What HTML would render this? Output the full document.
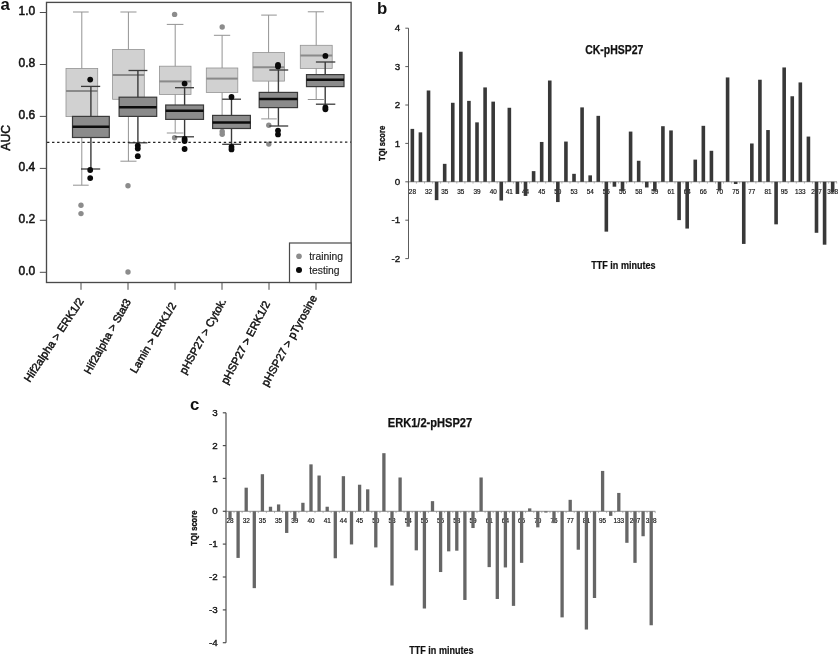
<!DOCTYPE html>
<html><head><meta charset="utf-8"><title>Figure</title>
<style>
html,body{margin:0;padding:0;background:#fff;}
body{width:839px;height:655px;overflow:hidden;font-family:"Liberation Sans",sans-serif;}
svg{display:block;font-family:"Liberation Sans",sans-serif;filter:blur(0.28px);}
</style></head><body>
<svg width="839" height="655" viewBox="0 0 839 655">
<rect x="0" y="0" width="839" height="655" fill="#ffffff"/>
<g id="pa">
<line x1="81.8" y1="12" x2="81.8" y2="185.2" stroke="#939393" stroke-width="1"/>
<line x1="73" y1="12" x2="88.7" y2="12" stroke="#939393" stroke-width="1"/>
<line x1="73" y1="185.2" x2="88.7" y2="185.2" stroke="#939393" stroke-width="1"/>
<rect x="66" y="68.4" width="31.7" height="48.2" fill="#d1d1d1" stroke="#939393" stroke-width="0.8"/>
<line x1="66" y1="91.0" x2="97.7" y2="91.0" stroke="#8a8a8a" stroke-width="2.0"/>
<circle cx="81" cy="205.3" r="2.7" fill="#8c8c8c"/>
<circle cx="81" cy="213.6" r="2.7" fill="#8c8c8c"/>
<line x1="128.4" y1="12" x2="128.4" y2="161.2" stroke="#939393" stroke-width="1"/>
<line x1="120.4" y1="12" x2="136.5" y2="12" stroke="#939393" stroke-width="1"/>
<line x1="120.4" y1="161.2" x2="136.5" y2="161.2" stroke="#939393" stroke-width="1"/>
<rect x="112.6" y="49.4" width="31.7" height="49.9" fill="#d1d1d1" stroke="#939393" stroke-width="0.8"/>
<line x1="112.6" y1="74.9" x2="144.3" y2="74.9" stroke="#8a8a8a" stroke-width="2.0"/>
<circle cx="128" cy="185.7" r="2.7" fill="#8c8c8c"/>
<circle cx="128" cy="272" r="2.7" fill="#8c8c8c"/>
<line x1="175.2" y1="24.4" x2="175.2" y2="133" stroke="#939393" stroke-width="1"/>
<line x1="166.8" y1="24.4" x2="183.4" y2="24.4" stroke="#939393" stroke-width="1"/>
<line x1="166.8" y1="133" x2="183.4" y2="133" stroke="#939393" stroke-width="1"/>
<rect x="159.4" y="66.2" width="31.6" height="28.3" fill="#d1d1d1" stroke="#939393" stroke-width="0.8"/>
<line x1="159.4" y1="81.4" x2="191" y2="81.4" stroke="#8a8a8a" stroke-width="2.0"/>
<circle cx="174.6" cy="14.4" r="2.7" fill="#8c8c8c"/>
<circle cx="174.6" cy="137.8" r="2.7" fill="#8c8c8c"/>
<line x1="222.1" y1="35.3" x2="222.1" y2="128.5" stroke="#939393" stroke-width="1"/>
<line x1="213.9" y1="35.3" x2="230.2" y2="35.3" stroke="#939393" stroke-width="1"/>
<line x1="213.9" y1="128.5" x2="230.2" y2="128.5" stroke="#939393" stroke-width="1"/>
<rect x="206.3" y="68" width="31.5" height="24.4" fill="#d1d1d1" stroke="#939393" stroke-width="0.8"/>
<line x1="206.3" y1="78.6" x2="237.8" y2="78.6" stroke="#8a8a8a" stroke-width="2.0"/>
<circle cx="222.2" cy="27" r="2.7" fill="#8c8c8c"/>
<circle cx="222.2" cy="131.5" r="2.7" fill="#8c8c8c"/>
<circle cx="222.2" cy="134.3" r="2.7" fill="#8c8c8c"/>
<line x1="268.6" y1="15.1" x2="268.6" y2="118.9" stroke="#939393" stroke-width="1"/>
<line x1="261.2" y1="15.1" x2="276.8" y2="15.1" stroke="#939393" stroke-width="1"/>
<line x1="261.2" y1="118.9" x2="276.8" y2="118.9" stroke="#939393" stroke-width="1"/>
<rect x="252.9" y="52.4" width="31.5" height="28.7" fill="#d1d1d1" stroke="#939393" stroke-width="0.8"/>
<line x1="252.9" y1="67.3" x2="284.4" y2="67.3" stroke="#8a8a8a" stroke-width="2.0"/>
<circle cx="268.8" cy="125.2" r="2.7" fill="#8c8c8c"/>
<circle cx="268.8" cy="144.1" r="2.7" fill="#8c8c8c"/>
<line x1="316.2" y1="11.8" x2="316.2" y2="99.5" stroke="#939393" stroke-width="1"/>
<line x1="307.8" y1="11.8" x2="323.9" y2="11.8" stroke="#939393" stroke-width="1"/>
<line x1="307.8" y1="99.5" x2="323.9" y2="99.5" stroke="#939393" stroke-width="1"/>
<rect x="300.3" y="45.3" width="31.9" height="23.2" fill="#d1d1d1" stroke="#939393" stroke-width="0.8"/>
<line x1="300.3" y1="55.4" x2="332.2" y2="55.4" stroke="#8a8a8a" stroke-width="2.0"/>
<line x1="47" y1="142.4" x2="351" y2="142.2" stroke="#222" stroke-width="1.3" stroke-dasharray="2.4,2.65"/>
<line x1="90.9" y1="86.4" x2="90.9" y2="169.0" stroke="#3a3a3a" stroke-width="1.4"/>
<line x1="81" y1="86.4" x2="100.2" y2="86.4" stroke="#3a3a3a" stroke-width="1.3"/>
<line x1="81" y1="169.0" x2="100.2" y2="169.0" stroke="#3a3a3a" stroke-width="1.3"/>
<rect x="72.5" y="116.4" width="36.8" height="21.1" fill="#8b8b8b" stroke="#3a3a3a" stroke-width="1.2"/>
<line x1="72.5" y1="126.7" x2="109.3" y2="126.7" stroke="#0c0c0c" stroke-width="2.5"/>
<circle cx="90.2" cy="79.6" r="2.9" fill="#0a0a0a"/>
<circle cx="90.2" cy="170" r="2.9" fill="#0a0a0a"/>
<circle cx="90.2" cy="178.1" r="2.9" fill="#0a0a0a"/>
<line x1="137.9" y1="70.5" x2="137.9" y2="142.8" stroke="#3a3a3a" stroke-width="1.4"/>
<line x1="128.5" y1="70.5" x2="147.4" y2="70.5" stroke="#3a3a3a" stroke-width="1.3"/>
<line x1="128.5" y1="142.8" x2="147.4" y2="142.8" stroke="#3a3a3a" stroke-width="1.3"/>
<rect x="119.1" y="97.2" width="37.6" height="19.2" fill="#8b8b8b" stroke="#3a3a3a" stroke-width="1.2"/>
<line x1="119.1" y1="107.2" x2="156.7" y2="107.2" stroke="#0c0c0c" stroke-width="2.5"/>
<circle cx="137.8" cy="145.6" r="2.9" fill="#0a0a0a"/>
<circle cx="137.8" cy="148.6" r="2.9" fill="#0a0a0a"/>
<circle cx="137.8" cy="156.2" r="2.9" fill="#0a0a0a"/>
<line x1="184.6" y1="87.7" x2="184.6" y2="136.8" stroke="#3a3a3a" stroke-width="1.4"/>
<line x1="175" y1="87.7" x2="194" y2="87.7" stroke="#3a3a3a" stroke-width="1.3"/>
<line x1="175" y1="136.8" x2="194" y2="136.8" stroke="#3a3a3a" stroke-width="1.3"/>
<rect x="165.7" y="105" width="37.8" height="14.4" fill="#8b8b8b" stroke="#3a3a3a" stroke-width="1.2"/>
<line x1="165.7" y1="110.8" x2="203.5" y2="110.8" stroke="#0c0c0c" stroke-width="2.5"/>
<circle cx="184.6" cy="83.6" r="2.9" fill="#0a0a0a"/>
<circle cx="184.6" cy="139" r="2.9" fill="#0a0a0a"/>
<circle cx="184.6" cy="141" r="2.9" fill="#0a0a0a"/>
<circle cx="184.6" cy="149" r="2.9" fill="#0a0a0a"/>
<line x1="231.5" y1="99.2" x2="231.5" y2="144.3" stroke="#3a3a3a" stroke-width="1.4"/>
<line x1="222.2" y1="99.2" x2="241" y2="99.2" stroke="#3a3a3a" stroke-width="1.3"/>
<line x1="222.2" y1="144.3" x2="241" y2="144.3" stroke="#3a3a3a" stroke-width="1.3"/>
<rect x="212.6" y="115.4" width="37.8" height="13.1" fill="#8b8b8b" stroke="#3a3a3a" stroke-width="1.2"/>
<line x1="212.6" y1="122.4" x2="250.4" y2="122.4" stroke="#0c0c0c" stroke-width="2.5"/>
<circle cx="231.5" cy="97" r="2.9" fill="#0a0a0a"/>
<circle cx="231.5" cy="146.9" r="2.9" fill="#0a0a0a"/>
<circle cx="231.5" cy="149.4" r="2.9" fill="#0a0a0a"/>
<line x1="278.4" y1="70" x2="278.4" y2="126" stroke="#3a3a3a" stroke-width="1.4"/>
<line x1="269.3" y1="70" x2="288.2" y2="70" stroke="#3a3a3a" stroke-width="1.3"/>
<line x1="269.3" y1="126" x2="288.2" y2="126" stroke="#3a3a3a" stroke-width="1.3"/>
<rect x="259.2" y="92.4" width="38.3" height="15.2" fill="#8b8b8b" stroke="#3a3a3a" stroke-width="1.2"/>
<line x1="259.2" y1="98.9" x2="297.5" y2="98.9" stroke="#0c0c0c" stroke-width="2.5"/>
<circle cx="278" cy="65" r="2.9" fill="#0a0a0a"/>
<circle cx="278" cy="66.5" r="2.9" fill="#0a0a0a"/>
<circle cx="278" cy="130.6" r="2.9" fill="#0a0a0a"/>
<circle cx="278" cy="134.4" r="2.9" fill="#0a0a0a"/>
<line x1="325.2" y1="62.0" x2="325.2" y2="104.2" stroke="#3a3a3a" stroke-width="1.4"/>
<line x1="315.9" y1="62.0" x2="335.3" y2="62.0" stroke="#3a3a3a" stroke-width="1.3"/>
<line x1="315.9" y1="104.2" x2="335.3" y2="104.2" stroke="#3a3a3a" stroke-width="1.3"/>
<rect x="306.5" y="74.6" width="37.5" height="12.0" fill="#8b8b8b" stroke="#3a3a3a" stroke-width="1.2"/>
<line x1="306.5" y1="79.8" x2="344" y2="79.8" stroke="#0c0c0c" stroke-width="2.5"/>
<circle cx="325.4" cy="55.9" r="2.9" fill="#0a0a0a"/>
<circle cx="325.4" cy="107.4" r="2.9" fill="#0a0a0a"/>
<circle cx="325.4" cy="109.3" r="2.9" fill="#0a0a0a"/>
<rect x="46.5" y="2.4" width="304.6" height="280.1" fill="none" stroke="#4a4a4a" stroke-width="1.35"/>
<line x1="39.8" y1="272.3" x2="46.5" y2="272.3" stroke="#4d4d4d" stroke-width="1"/>
<text x="35.3" y="274.9" text-anchor="end" font-size="12" fill="#111" stroke="#111" stroke-width="0.5">0.0</text>
<line x1="39.8" y1="220.3" x2="46.5" y2="220.3" stroke="#4d4d4d" stroke-width="1"/>
<text x="35.3" y="222.9" text-anchor="end" font-size="12" fill="#111" stroke="#111" stroke-width="0.5">0.2</text>
<line x1="39.8" y1="168.4" x2="46.5" y2="168.4" stroke="#4d4d4d" stroke-width="1"/>
<text x="35.3" y="171.0" text-anchor="end" font-size="12" fill="#111" stroke="#111" stroke-width="0.5">0.4</text>
<line x1="39.8" y1="116.4" x2="46.5" y2="116.4" stroke="#4d4d4d" stroke-width="1"/>
<text x="35.3" y="119.0" text-anchor="end" font-size="12" fill="#111" stroke="#111" stroke-width="0.5">0.6</text>
<line x1="39.8" y1="64.5" x2="46.5" y2="64.5" stroke="#4d4d4d" stroke-width="1"/>
<text x="35.3" y="67.1" text-anchor="end" font-size="12" fill="#111" stroke="#111" stroke-width="0.5">0.8</text>
<line x1="39.8" y1="12.5" x2="46.5" y2="12.5" stroke="#4d4d4d" stroke-width="1"/>
<text x="35.3" y="15.1" text-anchor="end" font-size="12" fill="#111" stroke="#111" stroke-width="0.5">1.0</text>
<line x1="81" y1="282.8" x2="81" y2="289.8" stroke="#4d4d4d" stroke-width="1"/>
<line x1="128" y1="282.8" x2="128" y2="289.8" stroke="#4d4d4d" stroke-width="1"/>
<line x1="175" y1="282.8" x2="175" y2="289.8" stroke="#4d4d4d" stroke-width="1"/>
<line x1="222" y1="282.8" x2="222" y2="289.8" stroke="#4d4d4d" stroke-width="1"/>
<line x1="269" y1="282.8" x2="269" y2="289.8" stroke="#4d4d4d" stroke-width="1"/>
<line x1="316" y1="282.8" x2="316" y2="289.8" stroke="#4d4d4d" stroke-width="1"/>
<text transform="translate(84.3,301.0) rotate(-56.4)" text-anchor="end" font-size="11.2" fill="#111" stroke="#111" stroke-width="0.45">Hif2alpha &gt; ERK1/2</text>
<text transform="translate(131.2,301.5) rotate(-60.7)" text-anchor="end" font-size="10.95" fill="#111" stroke="#111" stroke-width="0.45">Hif2alpha &gt; Stat3</text>
<text transform="translate(176.5,305.4) rotate(-59.5)" text-anchor="end" font-size="10.9" fill="#111" stroke="#111" stroke-width="0.45">Lamin &gt; ERK1/2</text>
<text transform="translate(226.6,300.9) rotate(-61.0)" text-anchor="end" font-size="11.0" fill="#111" stroke="#111" stroke-width="0.45">pHSP27 &gt; Cytok.</text>
<text transform="translate(270.5,303.6) rotate(-62.1)" text-anchor="end" font-size="11.1" fill="#111" stroke="#111" stroke-width="0.45">pHSP27 &gt; ERK1/2</text>
<text transform="translate(317.4,297.6) rotate(-60.9)" text-anchor="end" font-size="11.15" fill="#111" stroke="#111" stroke-width="0.45">pHSP27 &gt; pTyrosine</text>
<text transform="translate(10.4,137.8) rotate(-90)" text-anchor="middle" font-size="12.2" fill="#111" stroke="#111" stroke-width="0.5">AUC</text>
<text x="0.4" y="10" font-size="16.8" font-weight="bold" fill="#111">a</text>
<rect x="289.5" y="243" width="61.6" height="39.5" fill="#fff" stroke="#4a4a4a" stroke-width="1.2"/>
<circle cx="299" cy="256.2" r="2.8" fill="#8c8c8c"/>
<circle cx="299" cy="270.1" r="3.0" fill="#0a0a0a"/>
<text x="309.2" y="259.6" font-size="10.3" fill="#222" stroke="#222" stroke-width="0.15">training</text>
<text x="309.2" y="273.9" font-size="10.3" fill="#222" stroke="#222" stroke-width="0.15">testing</text>
</g>
<g id="pb">
<text x="412.4" y="193.6" text-anchor="middle" font-size="6.4" fill="#151515" stroke="#151515" stroke-width="0.18">28</text>
<text x="428.5" y="193.6" text-anchor="middle" font-size="6.4" fill="#151515" stroke="#151515" stroke-width="0.18">32</text>
<text x="444.7" y="193.6" text-anchor="middle" font-size="6.4" fill="#151515" stroke="#151515" stroke-width="0.18">35</text>
<text x="460.8" y="193.6" text-anchor="middle" font-size="6.4" fill="#151515" stroke="#151515" stroke-width="0.18">35</text>
<text x="477.0" y="193.6" text-anchor="middle" font-size="6.4" fill="#151515" stroke="#151515" stroke-width="0.18">39</text>
<text x="493.2" y="193.6" text-anchor="middle" font-size="6.4" fill="#151515" stroke="#151515" stroke-width="0.18">40</text>
<text x="509.3" y="193.6" text-anchor="middle" font-size="6.4" fill="#151515" stroke="#151515" stroke-width="0.18">41</text>
<text x="525.5" y="193.6" text-anchor="middle" font-size="6.4" fill="#151515" stroke="#151515" stroke-width="0.18">44</text>
<text x="541.7" y="193.6" text-anchor="middle" font-size="6.4" fill="#151515" stroke="#151515" stroke-width="0.18">45</text>
<text x="557.8" y="193.6" text-anchor="middle" font-size="6.4" fill="#151515" stroke="#151515" stroke-width="0.18">50</text>
<text x="574.0" y="193.6" text-anchor="middle" font-size="6.4" fill="#151515" stroke="#151515" stroke-width="0.18">53</text>
<text x="590.2" y="193.6" text-anchor="middle" font-size="6.4" fill="#151515" stroke="#151515" stroke-width="0.18">54</text>
<text x="606.3" y="193.6" text-anchor="middle" font-size="6.4" fill="#151515" stroke="#151515" stroke-width="0.18">55</text>
<text x="622.5" y="193.6" text-anchor="middle" font-size="6.4" fill="#151515" stroke="#151515" stroke-width="0.18">56</text>
<text x="638.7" y="193.6" text-anchor="middle" font-size="6.4" fill="#151515" stroke="#151515" stroke-width="0.18">58</text>
<text x="654.8" y="193.6" text-anchor="middle" font-size="6.4" fill="#151515" stroke="#151515" stroke-width="0.18">59</text>
<text x="671.0" y="193.6" text-anchor="middle" font-size="6.4" fill="#151515" stroke="#151515" stroke-width="0.18">61</text>
<text x="687.2" y="193.6" text-anchor="middle" font-size="6.4" fill="#151515" stroke="#151515" stroke-width="0.18">64</text>
<text x="703.3" y="193.6" text-anchor="middle" font-size="6.4" fill="#151515" stroke="#151515" stroke-width="0.18">66</text>
<text x="719.5" y="193.6" text-anchor="middle" font-size="6.4" fill="#151515" stroke="#151515" stroke-width="0.18">70</text>
<text x="735.7" y="193.6" text-anchor="middle" font-size="6.4" fill="#151515" stroke="#151515" stroke-width="0.18">75</text>
<text x="751.8" y="193.6" text-anchor="middle" font-size="6.4" fill="#151515" stroke="#151515" stroke-width="0.18">77</text>
<text x="768.0" y="193.6" text-anchor="middle" font-size="6.4" fill="#151515" stroke="#151515" stroke-width="0.18">81</text>
<text x="784.2" y="193.6" text-anchor="middle" font-size="6.4" fill="#151515" stroke="#151515" stroke-width="0.18">95</text>
<text x="800.3" y="193.6" text-anchor="middle" font-size="6.4" fill="#151515" stroke="#151515" stroke-width="0.18">133</text>
<text x="816.5" y="193.6" text-anchor="middle" font-size="6.4" fill="#151515" stroke="#151515" stroke-width="0.18">207</text>
<text x="832.7" y="193.6" text-anchor="middle" font-size="6.4" fill="#151515" stroke="#151515" stroke-width="0.18">328</text>
<line x1="408.5" y1="181.8" x2="837" y2="181.8" stroke="#858585" stroke-width="0.9"/>
<line x1="408.3" y1="181.8" x2="408.3" y2="183.60000000000002" stroke="#858585" stroke-width="0.6"/>
<line x1="416.4" y1="181.8" x2="416.4" y2="183.60000000000002" stroke="#858585" stroke-width="0.6"/>
<line x1="424.5" y1="181.8" x2="424.5" y2="183.60000000000002" stroke="#858585" stroke-width="0.6"/>
<line x1="432.6" y1="181.8" x2="432.6" y2="183.60000000000002" stroke="#858585" stroke-width="0.6"/>
<line x1="440.6" y1="181.8" x2="440.6" y2="183.60000000000002" stroke="#858585" stroke-width="0.6"/>
<line x1="448.7" y1="181.8" x2="448.7" y2="183.60000000000002" stroke="#858585" stroke-width="0.6"/>
<line x1="456.8" y1="181.8" x2="456.8" y2="183.60000000000002" stroke="#858585" stroke-width="0.6"/>
<line x1="464.9" y1="181.8" x2="464.9" y2="183.60000000000002" stroke="#858585" stroke-width="0.6"/>
<line x1="473.0" y1="181.8" x2="473.0" y2="183.60000000000002" stroke="#858585" stroke-width="0.6"/>
<line x1="481.1" y1="181.8" x2="481.1" y2="183.60000000000002" stroke="#858585" stroke-width="0.6"/>
<line x1="489.1" y1="181.8" x2="489.1" y2="183.60000000000002" stroke="#858585" stroke-width="0.6"/>
<line x1="497.2" y1="181.8" x2="497.2" y2="183.60000000000002" stroke="#858585" stroke-width="0.6"/>
<line x1="505.3" y1="181.8" x2="505.3" y2="183.60000000000002" stroke="#858585" stroke-width="0.6"/>
<line x1="513.4" y1="181.8" x2="513.4" y2="183.60000000000002" stroke="#858585" stroke-width="0.6"/>
<line x1="521.5" y1="181.8" x2="521.5" y2="183.60000000000002" stroke="#858585" stroke-width="0.6"/>
<line x1="529.6" y1="181.8" x2="529.6" y2="183.60000000000002" stroke="#858585" stroke-width="0.6"/>
<line x1="537.6" y1="181.8" x2="537.6" y2="183.60000000000002" stroke="#858585" stroke-width="0.6"/>
<line x1="545.7" y1="181.8" x2="545.7" y2="183.60000000000002" stroke="#858585" stroke-width="0.6"/>
<line x1="553.8" y1="181.8" x2="553.8" y2="183.60000000000002" stroke="#858585" stroke-width="0.6"/>
<line x1="561.9" y1="181.8" x2="561.9" y2="183.60000000000002" stroke="#858585" stroke-width="0.6"/>
<line x1="570.0" y1="181.8" x2="570.0" y2="183.60000000000002" stroke="#858585" stroke-width="0.6"/>
<line x1="578.1" y1="181.8" x2="578.1" y2="183.60000000000002" stroke="#858585" stroke-width="0.6"/>
<line x1="586.1" y1="181.8" x2="586.1" y2="183.60000000000002" stroke="#858585" stroke-width="0.6"/>
<line x1="594.2" y1="181.8" x2="594.2" y2="183.60000000000002" stroke="#858585" stroke-width="0.6"/>
<line x1="602.3" y1="181.8" x2="602.3" y2="183.60000000000002" stroke="#858585" stroke-width="0.6"/>
<line x1="610.4" y1="181.8" x2="610.4" y2="183.60000000000002" stroke="#858585" stroke-width="0.6"/>
<line x1="618.5" y1="181.8" x2="618.5" y2="183.60000000000002" stroke="#858585" stroke-width="0.6"/>
<line x1="626.5" y1="181.8" x2="626.5" y2="183.60000000000002" stroke="#858585" stroke-width="0.6"/>
<line x1="634.6" y1="181.8" x2="634.6" y2="183.60000000000002" stroke="#858585" stroke-width="0.6"/>
<line x1="642.7" y1="181.8" x2="642.7" y2="183.60000000000002" stroke="#858585" stroke-width="0.6"/>
<line x1="650.8" y1="181.8" x2="650.8" y2="183.60000000000002" stroke="#858585" stroke-width="0.6"/>
<line x1="658.9" y1="181.8" x2="658.9" y2="183.60000000000002" stroke="#858585" stroke-width="0.6"/>
<line x1="667.0" y1="181.8" x2="667.0" y2="183.60000000000002" stroke="#858585" stroke-width="0.6"/>
<line x1="675.0" y1="181.8" x2="675.0" y2="183.60000000000002" stroke="#858585" stroke-width="0.6"/>
<line x1="683.1" y1="181.8" x2="683.1" y2="183.60000000000002" stroke="#858585" stroke-width="0.6"/>
<line x1="691.2" y1="181.8" x2="691.2" y2="183.60000000000002" stroke="#858585" stroke-width="0.6"/>
<line x1="699.3" y1="181.8" x2="699.3" y2="183.60000000000002" stroke="#858585" stroke-width="0.6"/>
<line x1="707.4" y1="181.8" x2="707.4" y2="183.60000000000002" stroke="#858585" stroke-width="0.6"/>
<line x1="715.5" y1="181.8" x2="715.5" y2="183.60000000000002" stroke="#858585" stroke-width="0.6"/>
<line x1="723.5" y1="181.8" x2="723.5" y2="183.60000000000002" stroke="#858585" stroke-width="0.6"/>
<line x1="731.6" y1="181.8" x2="731.6" y2="183.60000000000002" stroke="#858585" stroke-width="0.6"/>
<line x1="739.7" y1="181.8" x2="739.7" y2="183.60000000000002" stroke="#858585" stroke-width="0.6"/>
<line x1="747.8" y1="181.8" x2="747.8" y2="183.60000000000002" stroke="#858585" stroke-width="0.6"/>
<line x1="755.9" y1="181.8" x2="755.9" y2="183.60000000000002" stroke="#858585" stroke-width="0.6"/>
<line x1="764.0" y1="181.8" x2="764.0" y2="183.60000000000002" stroke="#858585" stroke-width="0.6"/>
<line x1="772.0" y1="181.8" x2="772.0" y2="183.60000000000002" stroke="#858585" stroke-width="0.6"/>
<line x1="780.1" y1="181.8" x2="780.1" y2="183.60000000000002" stroke="#858585" stroke-width="0.6"/>
<line x1="788.2" y1="181.8" x2="788.2" y2="183.60000000000002" stroke="#858585" stroke-width="0.6"/>
<line x1="796.3" y1="181.8" x2="796.3" y2="183.60000000000002" stroke="#858585" stroke-width="0.6"/>
<line x1="804.4" y1="181.8" x2="804.4" y2="183.60000000000002" stroke="#858585" stroke-width="0.6"/>
<line x1="812.5" y1="181.8" x2="812.5" y2="183.60000000000002" stroke="#858585" stroke-width="0.6"/>
<line x1="820.5" y1="181.8" x2="820.5" y2="183.60000000000002" stroke="#858585" stroke-width="0.6"/>
<line x1="828.6" y1="181.8" x2="828.6" y2="183.60000000000002" stroke="#858585" stroke-width="0.6"/>
<line x1="836.7" y1="181.8" x2="836.7" y2="183.60000000000002" stroke="#858585" stroke-width="0.6"/>
<line x1="408.5" y1="28.2" x2="408.5" y2="258.6" stroke="#4a4a4a" stroke-width="0.9"/>
<line x1="405.3" y1="258.6" x2="408.5" y2="258.6" stroke="#4a4a4a" stroke-width="0.9"/>
<text x="400.3" y="261.7" text-anchor="end" font-size="9.8" fill="#111" stroke="#111" stroke-width="0.35">-2</text>
<line x1="405.3" y1="220.2" x2="408.5" y2="220.2" stroke="#4a4a4a" stroke-width="0.9"/>
<text x="400.3" y="223.3" text-anchor="end" font-size="9.8" fill="#111" stroke="#111" stroke-width="0.35">-1</text>
<line x1="405.3" y1="181.8" x2="408.5" y2="181.8" stroke="#4a4a4a" stroke-width="0.9"/>
<text x="400.3" y="184.9" text-anchor="end" font-size="9.8" fill="#111" stroke="#111" stroke-width="0.35">0</text>
<line x1="405.3" y1="143.4" x2="408.5" y2="143.4" stroke="#4a4a4a" stroke-width="0.9"/>
<text x="400.3" y="146.5" text-anchor="end" font-size="9.8" fill="#111" stroke="#111" stroke-width="0.35">1</text>
<line x1="405.3" y1="105.0" x2="408.5" y2="105.0" stroke="#4a4a4a" stroke-width="0.9"/>
<text x="400.3" y="108.1" text-anchor="end" font-size="9.8" fill="#111" stroke="#111" stroke-width="0.35">2</text>
<line x1="405.3" y1="66.6" x2="408.5" y2="66.6" stroke="#4a4a4a" stroke-width="0.9"/>
<text x="400.3" y="69.7" text-anchor="end" font-size="9.8" fill="#111" stroke="#111" stroke-width="0.35">3</text>
<line x1="405.3" y1="28.2" x2="408.5" y2="28.2" stroke="#4a4a4a" stroke-width="0.9"/>
<text x="400.3" y="31.3" text-anchor="end" font-size="9.8" fill="#111" stroke="#111" stroke-width="0.35">4</text>
<rect x="410.55" y="128.89" width="3.6" height="52.91" fill="#383838"/>
<rect x="418.63" y="132.35" width="3.6" height="49.45" fill="#383838"/>
<rect x="426.72" y="90.49" width="3.6" height="91.31" fill="#383838"/>
<rect x="434.80" y="181.80" width="3.6" height="18.35" fill="#383838"/>
<rect x="442.88" y="163.84" width="3.6" height="17.96" fill="#383838"/>
<rect x="450.97" y="102.78" width="3.6" height="79.02" fill="#383838"/>
<rect x="459.05" y="51.71" width="3.6" height="130.09" fill="#383838"/>
<rect x="467.13" y="100.86" width="3.6" height="80.94" fill="#383838"/>
<rect x="475.21" y="122.36" width="3.6" height="59.44" fill="#383838"/>
<rect x="483.30" y="87.42" width="3.6" height="94.38" fill="#383838"/>
<rect x="491.38" y="101.63" width="3.6" height="80.17" fill="#383838"/>
<rect x="499.46" y="181.80" width="3.6" height="18.73" fill="#383838"/>
<rect x="507.55" y="107.77" width="3.6" height="74.03" fill="#383838"/>
<rect x="515.63" y="181.80" width="3.6" height="12.20" fill="#383838"/>
<rect x="523.71" y="181.80" width="3.6" height="14.12" fill="#383838"/>
<rect x="531.80" y="171.13" width="3.6" height="10.67" fill="#383838"/>
<rect x="539.88" y="141.95" width="3.6" height="39.85" fill="#383838"/>
<rect x="547.96" y="80.51" width="3.6" height="101.29" fill="#383838"/>
<rect x="556.04" y="181.80" width="3.6" height="20.27" fill="#383838"/>
<rect x="564.13" y="141.56" width="3.6" height="40.24" fill="#383838"/>
<rect x="572.21" y="173.82" width="3.6" height="7.98" fill="#383838"/>
<rect x="580.29" y="107.39" width="3.6" height="74.41" fill="#383838"/>
<rect x="588.38" y="175.36" width="3.6" height="6.44" fill="#383838"/>
<rect x="596.46" y="115.84" width="3.6" height="65.96" fill="#383838"/>
<rect x="604.54" y="181.80" width="3.6" height="49.84" fill="#383838"/>
<rect x="612.63" y="181.80" width="3.6" height="4.91" fill="#383838"/>
<rect x="620.71" y="181.80" width="3.6" height="9.13" fill="#383838"/>
<rect x="628.79" y="131.58" width="3.6" height="50.22" fill="#383838"/>
<rect x="636.87" y="160.76" width="3.6" height="21.04" fill="#383838"/>
<rect x="644.96" y="181.80" width="3.6" height="5.68" fill="#383838"/>
<rect x="653.04" y="181.80" width="3.6" height="9.13" fill="#383838"/>
<rect x="661.12" y="126.20" width="3.6" height="55.60" fill="#383838"/>
<rect x="669.21" y="130.43" width="3.6" height="51.37" fill="#383838"/>
<rect x="677.29" y="181.80" width="3.6" height="38.32" fill="#383838"/>
<rect x="685.37" y="181.80" width="3.6" height="46.76" fill="#383838"/>
<rect x="693.46" y="159.61" width="3.6" height="22.19" fill="#383838"/>
<rect x="701.54" y="125.82" width="3.6" height="55.98" fill="#383838"/>
<rect x="709.62" y="150.78" width="3.6" height="31.02" fill="#383838"/>
<rect x="717.70" y="181.80" width="3.6" height="8.75" fill="#383838"/>
<rect x="725.79" y="77.44" width="3.6" height="104.36" fill="#383838"/>
<rect x="733.87" y="181.80" width="3.6" height="2.22" fill="#383838"/>
<rect x="741.95" y="181.80" width="3.6" height="62.12" fill="#383838"/>
<rect x="750.04" y="143.48" width="3.6" height="38.32" fill="#383838"/>
<rect x="758.12" y="79.74" width="3.6" height="102.06" fill="#383838"/>
<rect x="766.20" y="130.04" width="3.6" height="51.76" fill="#383838"/>
<rect x="774.29" y="181.80" width="3.6" height="42.54" fill="#383838"/>
<rect x="782.37" y="67.45" width="3.6" height="114.35" fill="#383838"/>
<rect x="790.45" y="96.25" width="3.6" height="85.55" fill="#383838"/>
<rect x="798.53" y="82.43" width="3.6" height="99.37" fill="#383838"/>
<rect x="806.62" y="136.57" width="3.6" height="45.23" fill="#383838"/>
<rect x="814.70" y="181.80" width="3.6" height="50.99" fill="#383838"/>
<rect x="822.78" y="181.80" width="3.6" height="62.89" fill="#383838"/>
<rect x="830.87" y="181.80" width="3.6" height="10.67" fill="#383838"/>
<text x="585.1999999999999" y="53.8" font-size="12.4" font-weight="bold" fill="#111" stroke="#111" stroke-width="0.25" textLength="58.2" lengthAdjust="spacingAndGlyphs">CK-pHSP27</text>
<text x="591.3" y="268.6" font-size="10.6" font-weight="bold" fill="#111" stroke="#111" stroke-width="0.2" textLength="64.2" lengthAdjust="spacingAndGlyphs">TTF in minutes</text>
<text transform="translate(384.6,143.4) rotate(-90)" x="-17.6" y="0" font-size="8.2" font-weight="bold" fill="#111" stroke="#111" stroke-width="0.3" textLength="35.2" lengthAdjust="spacingAndGlyphs">TQI score</text>
<text x="377" y="14.0" font-size="16.8" font-weight="bold" fill="#111">b</text>
</g>
<g id="pc">
<text x="230.0" y="523" text-anchor="middle" font-size="6.4" fill="#151515" stroke="#151515" stroke-width="0.18">28</text>
<text x="246.2" y="523" text-anchor="middle" font-size="6.4" fill="#151515" stroke="#151515" stroke-width="0.18">32</text>
<text x="262.4" y="523" text-anchor="middle" font-size="6.4" fill="#151515" stroke="#151515" stroke-width="0.18">35</text>
<text x="278.6" y="523" text-anchor="middle" font-size="6.4" fill="#151515" stroke="#151515" stroke-width="0.18">35</text>
<text x="294.8" y="523" text-anchor="middle" font-size="6.4" fill="#151515" stroke="#151515" stroke-width="0.18">39</text>
<text x="311.0" y="523" text-anchor="middle" font-size="6.4" fill="#151515" stroke="#151515" stroke-width="0.18">40</text>
<text x="327.2" y="523" text-anchor="middle" font-size="6.4" fill="#151515" stroke="#151515" stroke-width="0.18">41</text>
<text x="343.4" y="523" text-anchor="middle" font-size="6.4" fill="#151515" stroke="#151515" stroke-width="0.18">44</text>
<text x="359.6" y="523" text-anchor="middle" font-size="6.4" fill="#151515" stroke="#151515" stroke-width="0.18">45</text>
<text x="375.8" y="523" text-anchor="middle" font-size="6.4" fill="#151515" stroke="#151515" stroke-width="0.18">50</text>
<text x="392.0" y="523" text-anchor="middle" font-size="6.4" fill="#151515" stroke="#151515" stroke-width="0.18">53</text>
<text x="408.2" y="523" text-anchor="middle" font-size="6.4" fill="#151515" stroke="#151515" stroke-width="0.18">54</text>
<text x="424.4" y="523" text-anchor="middle" font-size="6.4" fill="#151515" stroke="#151515" stroke-width="0.18">55</text>
<text x="440.6" y="523" text-anchor="middle" font-size="6.4" fill="#151515" stroke="#151515" stroke-width="0.18">56</text>
<text x="456.8" y="523" text-anchor="middle" font-size="6.4" fill="#151515" stroke="#151515" stroke-width="0.18">58</text>
<text x="473.0" y="523" text-anchor="middle" font-size="6.4" fill="#151515" stroke="#151515" stroke-width="0.18">59</text>
<text x="489.2" y="523" text-anchor="middle" font-size="6.4" fill="#151515" stroke="#151515" stroke-width="0.18">61</text>
<text x="505.4" y="523" text-anchor="middle" font-size="6.4" fill="#151515" stroke="#151515" stroke-width="0.18">64</text>
<text x="521.6" y="523" text-anchor="middle" font-size="6.4" fill="#151515" stroke="#151515" stroke-width="0.18">66</text>
<text x="537.8" y="523" text-anchor="middle" font-size="6.4" fill="#151515" stroke="#151515" stroke-width="0.18">70</text>
<text x="554.0" y="523" text-anchor="middle" font-size="6.4" fill="#151515" stroke="#151515" stroke-width="0.18">75</text>
<text x="570.2" y="523" text-anchor="middle" font-size="6.4" fill="#151515" stroke="#151515" stroke-width="0.18">77</text>
<text x="586.4" y="523" text-anchor="middle" font-size="6.4" fill="#151515" stroke="#151515" stroke-width="0.18">81</text>
<text x="602.6" y="523" text-anchor="middle" font-size="6.4" fill="#151515" stroke="#151515" stroke-width="0.18">95</text>
<text x="618.8" y="523" text-anchor="middle" font-size="6.4" fill="#151515" stroke="#151515" stroke-width="0.18">133</text>
<text x="635.0" y="523" text-anchor="middle" font-size="6.4" fill="#151515" stroke="#151515" stroke-width="0.18">207</text>
<text x="651.2" y="523" text-anchor="middle" font-size="6.4" fill="#151515" stroke="#151515" stroke-width="0.18">328</text>
<line x1="226" y1="511.3" x2="655.3" y2="511.3" stroke="#858585" stroke-width="0.9"/>
<line x1="225.9" y1="511.3" x2="225.9" y2="513.1" stroke="#858585" stroke-width="0.6"/>
<line x1="234.0" y1="511.3" x2="234.0" y2="513.1" stroke="#858585" stroke-width="0.6"/>
<line x1="242.1" y1="511.3" x2="242.1" y2="513.1" stroke="#858585" stroke-width="0.6"/>
<line x1="250.2" y1="511.3" x2="250.2" y2="513.1" stroke="#858585" stroke-width="0.6"/>
<line x1="258.3" y1="511.3" x2="258.3" y2="513.1" stroke="#858585" stroke-width="0.6"/>
<line x1="266.4" y1="511.3" x2="266.4" y2="513.1" stroke="#858585" stroke-width="0.6"/>
<line x1="274.5" y1="511.3" x2="274.5" y2="513.1" stroke="#858585" stroke-width="0.6"/>
<line x1="282.6" y1="511.3" x2="282.6" y2="513.1" stroke="#858585" stroke-width="0.6"/>
<line x1="290.8" y1="511.3" x2="290.8" y2="513.1" stroke="#858585" stroke-width="0.6"/>
<line x1="298.8" y1="511.3" x2="298.8" y2="513.1" stroke="#858585" stroke-width="0.6"/>
<line x1="306.9" y1="511.3" x2="306.9" y2="513.1" stroke="#858585" stroke-width="0.6"/>
<line x1="315.0" y1="511.3" x2="315.0" y2="513.1" stroke="#858585" stroke-width="0.6"/>
<line x1="323.1" y1="511.3" x2="323.1" y2="513.1" stroke="#858585" stroke-width="0.6"/>
<line x1="331.2" y1="511.3" x2="331.2" y2="513.1" stroke="#858585" stroke-width="0.6"/>
<line x1="339.3" y1="511.3" x2="339.3" y2="513.1" stroke="#858585" stroke-width="0.6"/>
<line x1="347.4" y1="511.3" x2="347.4" y2="513.1" stroke="#858585" stroke-width="0.6"/>
<line x1="355.5" y1="511.3" x2="355.5" y2="513.1" stroke="#858585" stroke-width="0.6"/>
<line x1="363.6" y1="511.3" x2="363.6" y2="513.1" stroke="#858585" stroke-width="0.6"/>
<line x1="371.8" y1="511.3" x2="371.8" y2="513.1" stroke="#858585" stroke-width="0.6"/>
<line x1="379.9" y1="511.3" x2="379.9" y2="513.1" stroke="#858585" stroke-width="0.6"/>
<line x1="387.9" y1="511.3" x2="387.9" y2="513.1" stroke="#858585" stroke-width="0.6"/>
<line x1="396.0" y1="511.3" x2="396.0" y2="513.1" stroke="#858585" stroke-width="0.6"/>
<line x1="404.1" y1="511.3" x2="404.1" y2="513.1" stroke="#858585" stroke-width="0.6"/>
<line x1="412.2" y1="511.3" x2="412.2" y2="513.1" stroke="#858585" stroke-width="0.6"/>
<line x1="420.3" y1="511.3" x2="420.3" y2="513.1" stroke="#858585" stroke-width="0.6"/>
<line x1="428.4" y1="511.3" x2="428.4" y2="513.1" stroke="#858585" stroke-width="0.6"/>
<line x1="436.5" y1="511.3" x2="436.5" y2="513.1" stroke="#858585" stroke-width="0.6"/>
<line x1="444.6" y1="511.3" x2="444.6" y2="513.1" stroke="#858585" stroke-width="0.6"/>
<line x1="452.8" y1="511.3" x2="452.8" y2="513.1" stroke="#858585" stroke-width="0.6"/>
<line x1="460.8" y1="511.3" x2="460.8" y2="513.1" stroke="#858585" stroke-width="0.6"/>
<line x1="468.9" y1="511.3" x2="468.9" y2="513.1" stroke="#858585" stroke-width="0.6"/>
<line x1="477.0" y1="511.3" x2="477.0" y2="513.1" stroke="#858585" stroke-width="0.6"/>
<line x1="485.1" y1="511.3" x2="485.1" y2="513.1" stroke="#858585" stroke-width="0.6"/>
<line x1="493.2" y1="511.3" x2="493.2" y2="513.1" stroke="#858585" stroke-width="0.6"/>
<line x1="501.3" y1="511.3" x2="501.3" y2="513.1" stroke="#858585" stroke-width="0.6"/>
<line x1="509.4" y1="511.3" x2="509.4" y2="513.1" stroke="#858585" stroke-width="0.6"/>
<line x1="517.5" y1="511.3" x2="517.5" y2="513.1" stroke="#858585" stroke-width="0.6"/>
<line x1="525.6" y1="511.3" x2="525.6" y2="513.1" stroke="#858585" stroke-width="0.6"/>
<line x1="533.8" y1="511.3" x2="533.8" y2="513.1" stroke="#858585" stroke-width="0.6"/>
<line x1="541.8" y1="511.3" x2="541.8" y2="513.1" stroke="#858585" stroke-width="0.6"/>
<line x1="550.0" y1="511.3" x2="550.0" y2="513.1" stroke="#858585" stroke-width="0.6"/>
<line x1="558.0" y1="511.3" x2="558.0" y2="513.1" stroke="#858585" stroke-width="0.6"/>
<line x1="566.1" y1="511.3" x2="566.1" y2="513.1" stroke="#858585" stroke-width="0.6"/>
<line x1="574.2" y1="511.3" x2="574.2" y2="513.1" stroke="#858585" stroke-width="0.6"/>
<line x1="582.3" y1="511.3" x2="582.3" y2="513.1" stroke="#858585" stroke-width="0.6"/>
<line x1="590.5" y1="511.3" x2="590.5" y2="513.1" stroke="#858585" stroke-width="0.6"/>
<line x1="598.5" y1="511.3" x2="598.5" y2="513.1" stroke="#858585" stroke-width="0.6"/>
<line x1="606.6" y1="511.3" x2="606.6" y2="513.1" stroke="#858585" stroke-width="0.6"/>
<line x1="614.8" y1="511.3" x2="614.8" y2="513.1" stroke="#858585" stroke-width="0.6"/>
<line x1="622.8" y1="511.3" x2="622.8" y2="513.1" stroke="#858585" stroke-width="0.6"/>
<line x1="631.0" y1="511.3" x2="631.0" y2="513.1" stroke="#858585" stroke-width="0.6"/>
<line x1="639.0" y1="511.3" x2="639.0" y2="513.1" stroke="#858585" stroke-width="0.6"/>
<line x1="647.1" y1="511.3" x2="647.1" y2="513.1" stroke="#858585" stroke-width="0.6"/>
<line x1="655.2" y1="511.3" x2="655.2" y2="513.1" stroke="#858585" stroke-width="0.6"/>
<line x1="226" y1="412.8" x2="226" y2="642.7" stroke="#4f4f4f" stroke-width="1.2"/>
<line x1="222.8" y1="642.7" x2="226" y2="642.7" stroke="#4f4f4f" stroke-width="1.2"/>
<text x="217.8" y="645.8" text-anchor="end" font-size="9.8" fill="#111" stroke="#111" stroke-width="0.35">-4</text>
<line x1="222.8" y1="609.9" x2="226" y2="609.9" stroke="#4f4f4f" stroke-width="1.2"/>
<text x="217.8" y="613.0" text-anchor="end" font-size="9.8" fill="#111" stroke="#111" stroke-width="0.35">-3</text>
<line x1="222.8" y1="577.0" x2="226" y2="577.0" stroke="#4f4f4f" stroke-width="1.2"/>
<text x="217.8" y="580.1" text-anchor="end" font-size="9.8" fill="#111" stroke="#111" stroke-width="0.35">-2</text>
<line x1="222.8" y1="544.1" x2="226" y2="544.1" stroke="#4f4f4f" stroke-width="1.2"/>
<text x="217.8" y="547.2" text-anchor="end" font-size="9.8" fill="#111" stroke="#111" stroke-width="0.35">-1</text>
<line x1="222.8" y1="511.3" x2="226" y2="511.3" stroke="#4f4f4f" stroke-width="1.2"/>
<text x="217.8" y="514.4" text-anchor="end" font-size="9.8" fill="#111" stroke="#111" stroke-width="0.35">0</text>
<line x1="222.8" y1="478.4" x2="226" y2="478.4" stroke="#4f4f4f" stroke-width="1.2"/>
<text x="217.8" y="481.6" text-anchor="end" font-size="9.8" fill="#111" stroke="#111" stroke-width="0.35">1</text>
<line x1="222.8" y1="445.6" x2="226" y2="445.6" stroke="#4f4f4f" stroke-width="1.2"/>
<text x="217.8" y="448.7" text-anchor="end" font-size="9.8" fill="#111" stroke="#111" stroke-width="0.35">2</text>
<line x1="222.8" y1="412.8" x2="226" y2="412.8" stroke="#4f4f4f" stroke-width="1.2"/>
<text x="217.8" y="415.9" text-anchor="end" font-size="9.8" fill="#111" stroke="#111" stroke-width="0.35">3</text>
<rect x="228.35" y="511.30" width="3.3" height="8.18" fill="#666"/>
<rect x="236.45" y="511.30" width="3.3" height="46.62" fill="#666"/>
<rect x="244.55" y="487.68" width="3.3" height="23.62" fill="#666"/>
<rect x="252.65" y="511.30" width="3.3" height="76.84" fill="#666"/>
<rect x="260.75" y="474.21" width="3.3" height="37.09" fill="#666"/>
<rect x="268.85" y="506.73" width="3.3" height="4.57" fill="#666"/>
<rect x="276.95" y="504.43" width="3.3" height="6.87" fill="#666"/>
<rect x="285.05" y="511.30" width="3.3" height="21.65" fill="#666"/>
<rect x="293.15" y="511.30" width="3.3" height="9.50" fill="#666"/>
<rect x="301.25" y="502.79" width="3.3" height="8.51" fill="#666"/>
<rect x="309.35" y="464.35" width="3.3" height="46.95" fill="#666"/>
<rect x="317.45" y="475.52" width="3.3" height="35.78" fill="#666"/>
<rect x="325.55" y="506.73" width="3.3" height="4.57" fill="#666"/>
<rect x="333.65" y="511.30" width="3.3" height="46.95" fill="#666"/>
<rect x="341.75" y="476.18" width="3.3" height="35.12" fill="#666"/>
<rect x="349.85" y="511.30" width="3.3" height="33.15" fill="#666"/>
<rect x="357.95" y="484.72" width="3.3" height="26.58" fill="#666"/>
<rect x="366.05" y="489.32" width="3.3" height="21.98" fill="#666"/>
<rect x="374.15" y="511.30" width="3.3" height="36.11" fill="#666"/>
<rect x="382.25" y="453.18" width="3.3" height="58.12" fill="#666"/>
<rect x="390.35" y="511.30" width="3.3" height="74.21" fill="#666"/>
<rect x="398.45" y="477.49" width="3.3" height="33.81" fill="#666"/>
<rect x="406.55" y="511.30" width="3.3" height="15.41" fill="#666"/>
<rect x="414.65" y="511.30" width="3.3" height="39.06" fill="#666"/>
<rect x="422.75" y="511.30" width="3.3" height="97.21" fill="#666"/>
<rect x="430.85" y="501.14" width="3.3" height="10.16" fill="#666"/>
<rect x="438.95" y="511.30" width="3.3" height="60.74" fill="#666"/>
<rect x="447.05" y="511.30" width="3.3" height="40.05" fill="#666"/>
<rect x="455.15" y="511.30" width="3.3" height="39.39" fill="#666"/>
<rect x="463.25" y="511.30" width="3.3" height="88.67" fill="#666"/>
<rect x="471.35" y="511.30" width="3.3" height="16.73" fill="#666"/>
<rect x="479.45" y="477.49" width="3.3" height="33.81" fill="#666"/>
<rect x="487.55" y="511.30" width="3.3" height="55.82" fill="#666"/>
<rect x="495.65" y="511.30" width="3.3" height="87.68" fill="#666"/>
<rect x="503.75" y="511.30" width="3.3" height="56.14" fill="#666"/>
<rect x="511.85" y="511.30" width="3.3" height="94.58" fill="#666"/>
<rect x="519.95" y="511.30" width="3.3" height="51.55" fill="#666"/>
<rect x="528.05" y="508.37" width="3.3" height="2.93" fill="#666"/>
<rect x="536.15" y="511.30" width="3.3" height="16.07" fill="#666"/>
<rect x="544.25" y="511.30" width="3.3" height="1.29" fill="#666"/>
<rect x="552.35" y="511.30" width="3.3" height="11.80" fill="#666"/>
<rect x="560.45" y="511.30" width="3.3" height="106.08" fill="#666"/>
<rect x="568.55" y="499.83" width="3.3" height="11.47" fill="#666"/>
<rect x="576.65" y="511.30" width="3.3" height="38.41" fill="#666"/>
<rect x="584.75" y="511.30" width="3.3" height="118.23" fill="#666"/>
<rect x="592.85" y="511.30" width="3.3" height="86.70" fill="#666"/>
<rect x="600.95" y="470.92" width="3.3" height="40.38" fill="#666"/>
<rect x="609.05" y="511.30" width="3.3" height="4.57" fill="#666"/>
<rect x="617.15" y="492.93" width="3.3" height="18.37" fill="#666"/>
<rect x="625.25" y="511.30" width="3.3" height="31.51" fill="#666"/>
<rect x="633.35" y="511.30" width="3.3" height="51.55" fill="#666"/>
<rect x="641.45" y="511.30" width="3.3" height="24.94" fill="#666"/>
<rect x="649.55" y="511.30" width="3.3" height="113.96" fill="#666"/>
<text x="387.8" y="427.2" font-size="12.4" font-weight="bold" fill="#111" stroke="#111" stroke-width="0.25" textLength="84.4" lengthAdjust="spacingAndGlyphs">ERK1/2-pHSP27</text>
<text x="409.29999999999995" y="654.0" font-size="10.6" font-weight="bold" fill="#111" stroke="#111" stroke-width="0.2" textLength="64.2" lengthAdjust="spacingAndGlyphs">TTF in minutes</text>
<text transform="translate(197.2,528.1) rotate(-90)" x="-17.6" y="0" font-size="8.2" font-weight="bold" fill="#111" stroke="#111" stroke-width="0.3" textLength="35.2" lengthAdjust="spacingAndGlyphs">TQI score</text>
<text x="190" y="409.7" font-size="16.8" font-weight="bold" fill="#111">c</text>
</g>
</svg>
</body></html>
